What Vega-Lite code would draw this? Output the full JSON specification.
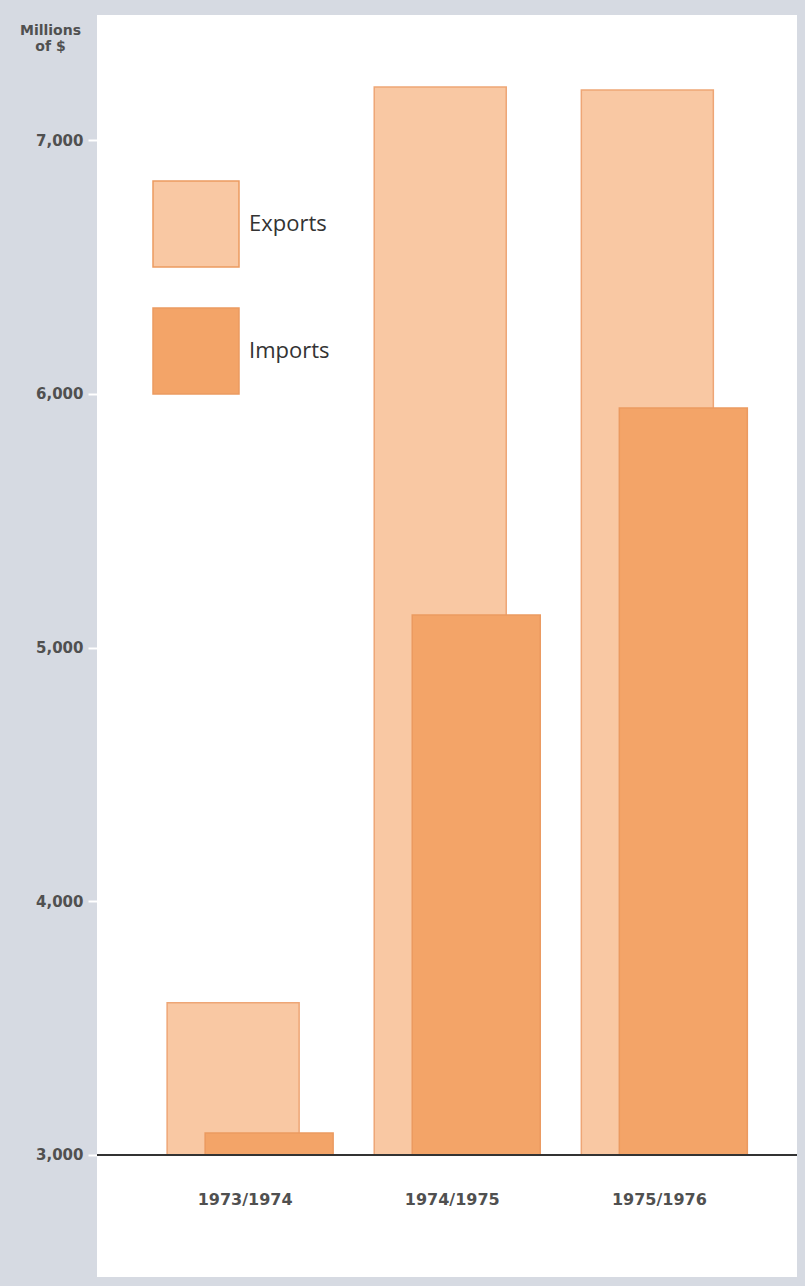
{
  "$schema": "https://vega.github.io/schema/vega-lite/v6.json",
  "autosize": {"type": "none"},
  "width": 700,
  "height": 1262,
  "padding": {"left": 97, "top": 15, "right": 8, "bottom": 9},
  "background": "#d6dae2",
  "config": {
    "view": {"fill": "white", "stroke": null},
    "font": "DejaVu Sans"
  },
  "data": {
    "values": [
      {"period": "1973/1974", "flow": "Exports", "value": 3600},
      {"period": "1973/1974", "flow": "Imports", "value": 3087},
      {"period": "1974/1975", "flow": "Exports", "value": 7209},
      {"period": "1974/1975", "flow": "Imports", "value": 5128},
      {"period": "1975/1976", "flow": "Exports", "value": 7197},
      {"period": "1975/1976", "flow": "Imports", "value": 5944}
    ]
  },
  "encoding": {
    "x": {
      "field": "period",
      "type": "nominal",
      "scale": {"paddingInner": 0, "paddingOuter": 0.19, "align": 0.63},
      "axis": null
    }
  },
  "layer": [
    {
      "transform": [{"filter": "datum.flow === 'Exports'"}],
      "mark": {"type": "bar", "width": 132, "xOffset": -17, "stroke": "#eea676", "strokeWidth": 1.5},
      "encoding": {
        "y": {
          "field": "value",
          "type": "quantitative",
          "scale": {"domain": [2519, 7493], "nice": false, "zero": false},
          "axis": {
            "values": [3000, 4000, 5000, 6000, 7000],
            "format": ",.0f",
            "domain": false,
            "grid": false,
            "tickColor": "white",
            "tickSize": 9,
            "tickWidth": 2,
            "labelPadding": 5,
            "labelFontSize": 15,
            "labelFontWeight": "bold",
            "labelColor": "#505050",
            "labelFont": "DejaVu Sans",
            "title": ["Millions", "of $"],
            "titleAngle": 0,
            "titleAlign": "center",
            "titleBaseline": "top",
            "titleX": -47,
            "titleY": 8,
            "titleFont": "DejaVu Sans",
            "titleFontSize": 14,
            "titleFontWeight": "bold",
            "titleColor": "#505050",
            "titleLineHeight": 16
          }
        },
        "y2": {"datum": 3000},
        "color": {
          "field": "flow",
          "type": "nominal",
          "scale": {"domain": ["Exports", "Imports"], "range": ["#f9c8a3", "#f3a468"]},
          "legend": {
            "orient": "none",
            "legendX": 55,
            "legendY": 165,
            "title": null,
            "symbolType": "square",
            "symbolSize": 7396,
            "symbolStrokeColor": "#eb9a66",
            "symbolStrokeWidth": 1.5,
            "symbolOpacity": 1,
            "rowPadding": 35,
            "labelOffset": 9,
            "labelFontSize": 22,
            "labelFont": "Open Sans",
            "labelColor": "#333333"
          }
        }
      }
    },
    {
      "transform": [{"filter": "datum.flow === 'Imports'"}],
      "mark": {"type": "bar", "width": 128, "xOffset": 19, "stroke": "#eb9a60", "strokeWidth": 1.5},
      "encoding": {
        "y": {"field": "value", "type": "quantitative"},
        "y2": {"datum": 3000},
        "color": {"field": "flow", "type": "nominal"}
      }
    },
    {
      "mark": {"type": "rule", "color": "#333333", "strokeWidth": 2},
      "encoding": {"y": {"datum": 3000}, "x": null}
    },
    {
      "transform": [{"filter": "datum.flow === 'Exports'"}],
      "mark": {"type": "text", "fontSize": 16, "fontWeight": "bold", "color": "#505050", "xOffset": -5, "baseline": "middle", "font": "DejaVu Sans"},
      "encoding": {
        "text": {"field": "period"},
        "y": {"datum": 2823}
      }
    }
  ]
}
